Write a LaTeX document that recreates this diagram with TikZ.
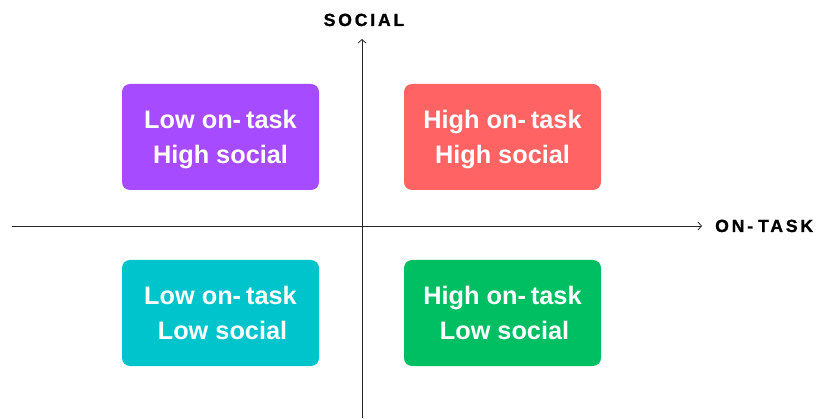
\documentclass[tikz,border=0pt]{standalone}
\usepackage{fontspec}
\setmainfont{Liberation Sans}
\usetikzlibrary{arrows.meta}
\definecolor{cpurple}{RGB}{166,75,255}
\definecolor{cred}{RGB}{255,99,99}
\definecolor{cteal}{RGB}{0,196,204}
\definecolor{cgreen}{RGB}{0,191,99}
\newfontfamily\axisfont[LetterSpace=16,FakeBold=1.2]{Liberation Sans Bold}
\tikzset{
  quad/.style={rounded corners=8pt, minimum width=197pt, minimum height=106pt,
    inner sep=0pt},
  quadtext/.style={text=white, align=center, inner sep=0pt,
    font=\bfseries\fontsize{25.3}{35}\selectfont},
  axis/.style={line width=0.9pt, draw=black!85, -{Straight Barb[length=3.5pt,width=8pt,line width=0.8pt]}},
  axislabel/.style={font=\axisfont\fontsize{17.6}{20}\selectfont, text=black, inner sep=0pt}
}
\begin{document}
\begin{tikzpicture}[x=1pt,y=1pt]
\useasboundingbox (0,0) rectangle (822,418);
\coordinate (ybot) at (362,0);
\coordinate (ytop) at (362,379);
\coordinate (xleft) at (12,192);
\coordinate (xright) at (702,192);
\draw[axis] (ybot) -- (ytop);
\draw[axis] (xleft) -- (xright);
\node[axislabel, anchor=base] (social) at (364,392) {SOCIAL};
\node[axislabel, anchor=base west] (ontask) at (715,186) {ON-\hspace{5pt}TASK};
\node[quad, fill=cpurple] (q1) at (220.5,281) {};
\node[quad, fill=cred] (q2) at (502.5,281) {};
\node[quad, fill=cteal] (q3) at (220.5,105) {};
\node[quad, fill=cgreen] (q4) at (502.5,105) {};
\node[quadtext, yshift=-2.5pt] (t1) at (q1.center) {Low on-\hspace{5pt}task\\High social};
\node[quadtext, yshift=-2.5pt] (t2) at (q2.center) {High on-\hspace{5pt}task\\High social};
\node[quadtext, yshift=0pt] (t3) at (q3.center) {Low on-\hspace{5pt}task\\\hspace{4pt}Low social};
\node[quadtext, yshift=0pt] (t4) at (q4.center) {High on-\hspace{5pt}task\\\hspace{4pt}Low social};
\end{tikzpicture}
\end{document}
